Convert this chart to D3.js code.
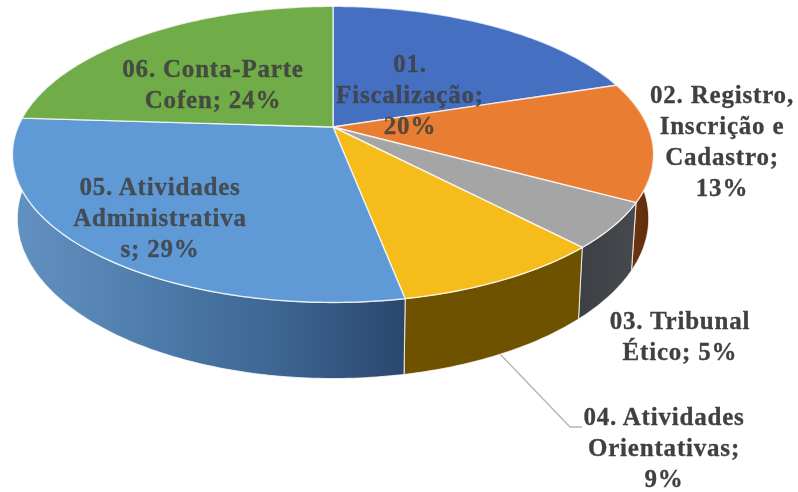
<!DOCTYPE html>
<html>
<head>
<meta charset="utf-8">
<script src="https://cdn.jsdelivr.net/npm/d3@7"></script>
<style>
  html, body { margin: 0; background: #fff; }
  svg { display: block; filter: blur(0.55px); }
</style>
</head>
<body>
<div id="chart"></div>
<script>
// 3D pie, values in percent
const categories = ["01. Fiscalização", "02. Registro, Inscrição e Cadastro", "03. Tribunal Ético",
  "04. Atividades Orientativas", "05. Atividades Administrativas", "06. Conta-Parte Cofen"];
const values = [20, 13, 5, 9, 29, 24];

// label text as it wraps in the picture
const labelLines = [
  ["01.", "Fiscalização;", "20%"],
  ["02. Registro,", "Inscrição e", "Cadastro;", "13%"],
  ["03. Tribunal", "Ético; 5%"],
  ["04. Atividades", "Orientativas;", "9%"],
  ["05. Atividades", "Administrativa", "s; 29%"],
  ["06. Conta-Parte", "Cofen; 24%"]
];

const width = 798;
const height = 492;

const topColors = ["#4570c2", "#e97d31", "#a5a5a5", "#f5bc1c", "#5f9ad6", "#70ac47"];
const wallStops = [
  ["#2a4374", "#2a4374"],
  ["#7a3c12", "#5c2c0c"],
  ["#3c3f44", "#46494e"],
  ["#6e5200", "#6e5200"],
  ["#6391c1", "#4f7dac", "#3d6693", "#2a466d"],
  ["#43682b", "#43682b"]
];
const labelPlace = [
  { x: 410, y: 72, op: 0.85 },
  { x: 722, y: 103, op: 1 },
  { x: 680, y: 329, op: 1 },
  { x: 664, y: 425, op: 1 },
  { x: 160, y: 195, op: 0.85 },
  { x: 213, y: 77, op: 0.9 }
];

// tilted disc: apex sits above the middle of the ellipse because of the perspective
const cx = 333, cy = 127, rx = 315, ry = 143, persp = 0.185;
const depth = 62, wallShrink = 0.985;

function project(angle, lower) {
  const sx = Math.sin(angle), sy = -Math.cos(angle);
  const w = 1 - persp * sy;
  const px = rx * sx / w;
  const py = ry * sy / w;
  if (!lower) return [cx + px, cy + py];
  return [cx + px * wallShrink, cy + py + depth / w];
}

function arcAngles(a0, a1) {
  const n = Math.max(2, Math.ceil((a1 - a0) / 0.015));
  return d3.range(n + 1).map((i) => a0 + (a1 - a0) * i / n);
}

const svg = d3.select("#chart").append("svg")
  .attr("width", width)
  .attr("height", height)
  .attr("viewBox", [0, 0, width, height])
  .style("font-family", "'Liberation Serif', serif");

const slices = d3.pie().sort(null).value((d) => d)(values);
const line = d3.line();

const defs = svg.append("defs");
wallStops.forEach((stops, i) => {
  const grad = defs.append("linearGradient").attr("id", "wall" + i);
  stops.forEach((c, j) => {
    grad.append("stop").attr("offset", j / (stops.length - 1)).attr("stop-color", c);
  });
});

// leader line for 04, goes in under the wall
svg.append("path")
  .attr("d", line([[500, 354], [570, 427], [582, 427]]))
  .attr("fill", "none")
  .attr("stroke", "#b5b5b5")
  .attr("stroke-width", 1.4);

// walls first, the top face hides whatever faces backwards
svg.append("g").selectAll("path").data(slices).join("path")
  .attr("d", (d) => {
    const angles = arcAngles(d.startAngle, d.endAngle);
    const upper = angles.map((a) => project(a, false));
    const lower = angles.slice().reverse().map((a) => project(a, true));
    return line(upper.concat(lower)) + "Z";
  })
  .attr("fill", (d, i) => `url(#wall${i})`)
  .attr("stroke", "#fff")
  .attr("stroke-opacity", 0.75)
  .attr("stroke-width", 1.1);

svg.append("g").selectAll("path").data(slices).join("path")
  .attr("d", (d) => {
    const rim = arcAngles(d.startAngle, d.endAngle).map((a) => project(a, false));
    return line([[cx, cy]].concat(rim)) + "Z";
  })
  .attr("fill", (d, i) => topColors[i])
  .attr("stroke", "#fff")
  .attr("stroke-opacity", 0.75)
  .attr("stroke-width", 1.4)
  .attr("stroke-linejoin", "round");

const labels = svg.append("g").selectAll("text").data(labelLines).join("text")
  .attr("text-anchor", "middle")
  .attr("font-size", 25)
  .attr("font-weight", "bold")
  .attr("letter-spacing", 0.8)
  .attr("fill", "#404040")
  .attr("stroke", "#404040")
  .attr("stroke-width", 0.3)
  .attr("fill-opacity", (d, i) => labelPlace[i].op)
  .attr("stroke-opacity", (d, i) => labelPlace[i].op)
  .attr("data-name", (d, i) => categories[i]);

labels.each(function (lines, i) {
  const place = labelPlace[i];
  d3.select(this).selectAll("tspan").data(lines).join("tspan")
    .attr("x", place.x)
    .attr("y", (d, j) => place.y + j * 31)
    .text((d) => d);
});
</script>
</body>
</html>
